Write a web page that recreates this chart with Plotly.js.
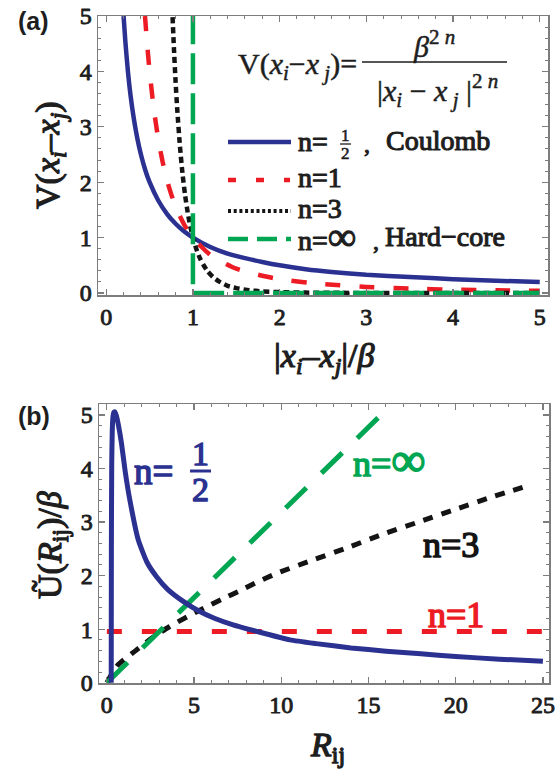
<!DOCTYPE html>
<html><head><meta charset="utf-8">
<script src="https://cdn.plot.ly/plotly-3.0.1.min.js"></script>
<style>html,body{margin:0;padding:0;background:#fff}#chart{width:560px;height:770px}</style>
</head><body><div id="chart"></div>
<script>
// ---------- Panel (a): V(x_i - x_j) vs |x_i - x_j|/beta ----------
const aCoulombX = [0.2,0.22,0.25,0.28,0.32,0.36,0.4,0.45,0.5,0.6,0.7,0.8,0.9,1,1.2,1.4,1.6,1.8,2,2.3,2.6,3,3.5,4,4.5,5];
const aCoulombY = [5,4.55,4,3.57,3.13,2.78,2.5,2.22,2,1.67,1.43,1.25,1.11,1,0.83,0.71,0.63,0.56,0.5,0.43,0.38,0.33,0.29,0.25,0.22,0.2];
const aN1X = [0.447,0.47,0.5,0.55,0.6,0.65,0.7,0.75,0.8,0.9,1,1.1,1.2,1.35,1.5,1.75,2,2.5,3,3.5,4,4.5,5];
const aN1Y = [5,4.53,4,3.31,2.78,2.37,2.04,1.78,1.56,1.23,1,0.83,0.69,0.55,0.44,0.33,0.25,0.16,0.11,0.08,0.06,0.05,0.04];
const aN3X = [0.765,0.78,0.8,0.82,0.85,0.88,0.91,0.94,0.97,1,1.04,1.08,1.12,1.17,1.23,1.3,1.4,1.5,1.65,1.8,2,2.3,2.7,3,3.5,4,4.5,5];
const aN3Y = [4.98,4.44,3.81,3.29,2.65,2.15,1.76,1.45,1.2,1,0.79,0.63,0.51,0.39,0.29,0.21,0.13,0.088,0.05,0.03,0.016,0.007,0.003,0.001,0.0005,0,0,0];
const aHardX = [1,1,5];
const aHardY = [5.05,0,0];
const aXTicks = [0,1,2,3,4,5];
const aYTicks = [0,1,2,3,4,5];

// ---------- Panel (b): U~(R_ij)/beta vs R_ij ----------
const bCoulombX = [0.25,0.26,0.28,0.31,0.35,0.4,0.46,0.55,0.65,0.84,1.05,1.32,1.8,2.3,2.85,3.5,4.38,5.33,6.2,7.24,8.58,10.5,12,14,16,18,20,22.5,25];
const bCoulombY = [0,2.5,4.1,4.7,4.97,5.05,5.06,4.98,4.83,4.47,3.95,3.41,2.67,2.25,1.98,1.74,1.52,1.33,1.2,1.08,0.96,0.8,0.73,0.65,0.59,0.54,0.49,0.44,0.4];
const bN1X = [0,25];
const bN1Y = [0.957,0.957];
const bN3X = [0,0.6,1.65,2.6,3.6,4.6,5.6,6.6,7.7,8.7,9.8,11.7,13.7,15.8,17.95,20,22,24.25];
const bN3Y = [0,0.32,0.6,0.84,1.05,1.23,1.4,1.56,1.73,1.89,2.05,2.28,2.51,2.77,3.01,3.24,3.46,3.69];
const bHardX = [0,16];
const bHardY = [0,5.09];
const bXTicks = [0,5,10,15,20,25];
const bYTicks = [0,1,2,3,4,5];

const BLUE = '#2B3190', RED = '#ED1C24', BLACK = '#141414', GREEN = '#00A651';
const INK = '#1e1e1e';
const FRAME = '#7d7d7d';
const SERIF = 'Liberation Serif';
const SANS = 'Liberation Sans';

const W = 560, H = 770;
const px = v => v / W;
const py = v => 1 - v / H;

const traces = [
  {x: aCoulombX, y: aCoulombY, xaxis: 'x', yaxis: 'y', mode: 'lines', line: {color: BLUE, width: 4.5, shape: 'spline', smoothing: 0.6}},
  {x: aN1X, y: aN1Y, xaxis: 'x', yaxis: 'y', mode: 'lines', line: {color: RED, width: 4.5, dash: '15px,19px', shape: 'spline', smoothing: 0.6}},
  {x: aN3X, y: aN3Y, xaxis: 'x', yaxis: 'y', mode: 'lines', line: {color: BLACK, width: 4.5, dash: '6px,4px', shape: 'spline', smoothing: 0.6}},
  {x: aHardX, y: aHardY, xaxis: 'x', yaxis: 'y', mode: 'lines', line: {color: GREEN, width: 4.5, dash: '31px,9px'}},
  {x: bN1X, y: bN1Y, xaxis: 'x2', yaxis: 'y2', mode: 'lines', line: {color: RED, width: 5, dash: '15px,20px'}},
  {x: bN3X, y: bN3Y, xaxis: 'x2', yaxis: 'y2', mode: 'lines', line: {color: BLACK, width: 5, dash: '10px,9px', shape: 'spline', smoothing: 0.6}},
  {x: bHardX, y: bHardY, xaxis: 'x2', yaxis: 'y2', mode: 'lines', line: {color: GREEN, width: 5, dash: '29px,21px'}},
  {x: bCoulombX, y: bCoulombY, xaxis: 'x2', yaxis: 'y2', mode: 'lines', line: {color: BLUE, width: 5, shape: 'spline', smoothing: 0.5}}
];

function axisBase(extra) {
  return Object.assign({
    showline: true, linecolor: FRAME, linewidth: 1.5, mirror: 'allticks',
    ticks: 'inside', ticklen: 6, tickwidth: 1.2, tickcolor: FRAME,
    showgrid: false, zeroline: false, fixedrange: true,
    tickfont: {family: SERIF, size: 24, color: INK}
  }, extra);
}

const annotations = [];
const boldW = [];
function ann(text, x, y, size, color, bold, opts) {
  annotations.push(Object.assign({text: text, xref: 'paper', yref: 'paper', x: px(x), y: py(y),
    xanchor: 'center', yanchor: 'middle', showarrow: false,
    font: {family: SERIF, size: size, color: color}}, opts || {}));
  boldW.push(bold);
}

const INF_S = '<span style="font-size:40px">\u221e</span>';
const INF_B = '<span style="font-size:48px">\u221e</span>';

ann('<b>(a)</b>', 16, 21, 25, INK, 0, {xanchor: 'left', font: {family: SANS, size: 25, color: INK}});
ann('<b>(b)</b>', 16, 416, 25, INK, 0, {xanchor: 'left', font: {family: SANS, size: 25, color: INK}});
ann('V(<i>x<sub>i</sub></i>\u2013<i>x<sub>j</sub></i>)', 50, 155, 34, INK, 1.2, {textangle: -90});
ann('|<i>x<sub>i</sub></i>\u2013<i>x<sub>j</sub></i>|/<i>\u03b2</i>', 324, 358, 34, INK, 1.2);
ann('\u0168(<i>R</i><sub>ij</sub>)/<i>\u03b2</i>', 52, 545, 34, INK, 1.2, {textangle: -90});
ann('<i>R</i><sub>ij</sub>', 327, 747, 34, INK, 1.3);
ann('V(<i>x<sub>i</sub></i>\u2212<i>x<sub> j</sub></i>)=', 359, 66, 30, INK, 0.5, {xanchor: 'right'});
ann('<i>\u03b2</i><sup>2 <i>n</i></sup>', 434, 44, 30, INK, 0.5);
ann('|<i>x<sub>i</sub></i> \u2212 <i>x<sub> j</sub></i> |<sup>2 <i>n</i></sup>', 437, 90, 30, INK, 0.5);
ann('n=', 296, 141, 28, INK, 1.1, {xanchor: 'left'});
ann('1', 345.5, 135, 17, INK, 0.6);
ann('2', 345.5, 153, 17, INK, 0.6);
ann(',', 367, 144, 24, INK, 1.0);
ann('Coulomb', 384, 140, 28, INK, 1.1, {xanchor: 'left'});
ann('n=1', 296, 178, 28, INK, 1.1, {xanchor: 'left'});
ann('n=3', 296, 209, 28, INK, 1.1, {xanchor: 'left'});
ann('n=' + INF_S, 296, 236, 28, INK, 1.1, {xanchor: 'left'});
ann(',', 376, 241, 24, INK, 1.0);
ann('Hard\u2212core', 383, 237, 28, INK, 1.1, {xanchor: 'left'});
ann('n=', 132, 471, 37, BLUE, 1.5, {xanchor: 'left'});
ann('1', 200.5, 453, 34, BLUE, 1.4);
ann('2', 200.5, 489, 34, BLUE, 1.4);
ann('n=' + INF_B, 351, 459, 36, GREEN, 1.5, {xanchor: 'left'});
ann('n=3', 421, 545, 36, BLACK, 1.5, {xanchor: 'left'});
ann('n=1', 426, 615, 36, RED, 1.5, {xanchor: 'left'});

const layout = {
  width: W, height: H,
  margin: {l: 0, r: 0, t: 0, b: 0},
  paper_bgcolor: '#fff', plot_bgcolor: '#fff',
  showlegend: false,
  xaxis: axisBase({domain: [px(98), px(548)], range: [-0.095, 5.095], anchor: 'y',
    tickmode: 'array', tickvals: aXTicks, ticktext: aXTicks.map(String),
    minor: {dtick: 0.2, tick0: 0, ticks: 'inside', ticklen: 3, tickcolor: FRAME, tickwidth: 1}}),
  yaxis: axisBase({domain: [py(295), py(16)], range: [-0.036, 5], anchor: 'x',
    tickmode: 'array', tickvals: aYTicks, ticktext: aYTicks.map(String),
    minor: {dtick: 0.2, tick0: 0, ticks: 'inside', ticklen: 3, tickcolor: FRAME, tickwidth: 1}}),
  xaxis2: axisBase({domain: [px(99), px(549)], range: [-0.45, 25.35], anchor: 'y2',
    tickmode: 'array', tickvals: bXTicks, ticktext: bXTicks.map(String),
    minor: {dtick: 1, tick0: 0, ticks: 'inside', ticklen: 3, tickcolor: FRAME, tickwidth: 1}}),
  yaxis2: axisBase({domain: [py(683), py(404)], range: [-0.005, 5.205], anchor: 'x2',
    tickmode: 'array', tickvals: bYTicks, ticktext: bYTicks.map(String),
    minor: {dtick: 0.2, tick0: 0, ticks: 'inside', ticklen: 3, tickcolor: FRAME, tickwidth: 1}}),
  shapes: [
    {type: 'line', xref: 'paper', yref: 'paper', x0: px(228), x1: px(291), y0: py(142), y1: py(142), line: {color: BLUE, width: 4.5}},
    {type: 'line', xref: 'paper', yref: 'paper', x0: px(228), x1: px(290), y0: py(180), y1: py(180), line: {color: RED, width: 4.5, dash: '8px,20px'}},
    {type: 'line', xref: 'paper', yref: 'paper', x0: px(228), x1: px(291), y0: py(211), y1: py(211), line: {color: BLACK, width: 4, dash: '3px,2.7px'}},
    {type: 'line', xref: 'paper', yref: 'paper', x0: px(228), x1: px(291), y0: py(239), y1: py(239), line: {color: GREEN, width: 4.5, dash: '20px,9px'}},
    {type: 'line', xref: 'paper', yref: 'paper', x0: px(362), x1: px(507), y0: py(62), y1: py(62), line: {color: INK, width: 1.6}},
    {type: 'line', xref: 'paper', yref: 'paper', x0: px(340), x1: px(351), y0: py(144), y1: py(144), line: {color: INK, width: 1.3}},
    {type: 'line', xref: 'paper', yref: 'paper', x0: px(190), x1: px(211), y0: py(471), y1: py(471), line: {color: BLUE, width: 3}}
  ],
  annotations: annotations
};

function embolden(t, w) {
  const c = t.style.fill || INK;
  t.style.stroke = c;
  t.style.strokeWidth = w + 'px';
  t.style.strokeLinejoin = 'round';
}

Plotly.newPlot('chart', traces, layout, {staticPlot: true, displayModeBar: false}).then(gd => {
  gd.querySelectorAll('.xtick text, .ytick text, .x2tick text, .y2tick text').forEach(t => embolden(t, 0.9));
  gd.querySelectorAll('g.annotation').forEach(g => {
    const i = +g.getAttribute('data-index');
    if (boldW[i]) g.querySelectorAll('text').forEach(t => embolden(t, boldW[i]));
  });
});
</script>
</body></html>
